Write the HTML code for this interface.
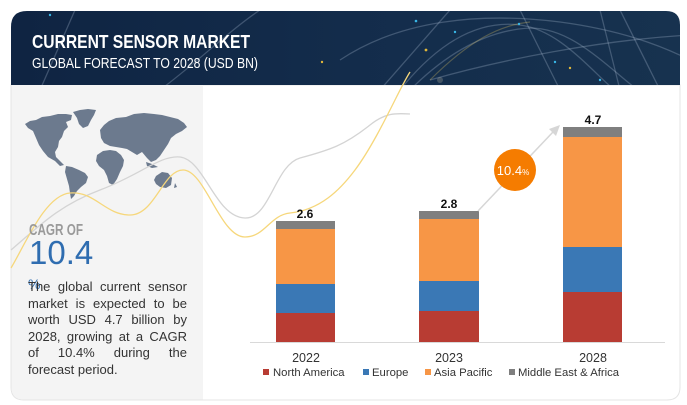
<!DOCTYPE html>
<html><head><meta charset="utf-8">
<style>
html,body{margin:0;padding:0;background:#fff;}
#wrap{position:relative;width:687px;height:405px;overflow:hidden;font-family:"Liberation Sans",sans-serif;}
svg{position:absolute;left:0;top:0;}
.para{position:absolute;left:28px;top:279px;width:159px;font-size:13px;line-height:16.6px;color:#333;}
.para div{text-align:justify;text-align-last:justify;white-space:nowrap;}
.para div.last{text-align:left;text-align-last:left;}
</style></head><body>
<div id="wrap">
<svg width="687" height="405" viewBox="0 0 687 405" xmlns="http://www.w3.org/2000/svg">
<defs>
<linearGradient id="hg" x1="0" y1="0" x2="1" y2="0">
<stop offset="0" stop-color="#0f2442"/>
<stop offset="0.5" stop-color="#132c4b"/>
<stop offset="1" stop-color="#17324f"/>
</linearGradient>
<clipPath id="hc"><path d="M11,85 L11,27 Q11,11 27,11 L666,11 Q680,11 680,25 L680,85 Z"/></clipPath>
</defs>
<!-- card -->
<path d="M11,85 L680,85 L680,387 Q680,400 667,400 L24,400 Q11,400 11,387 Z" fill="#fff" stroke="#e4e4e4" stroke-width="1"/>
<path d="M11.5,85 L203,85 L203,399.5 L24,399.5 Q11.5,399.5 11.5,387 Z" fill="#f4f4f4"/>
<!-- header -->
<g clip-path="url(#hc)">
<rect x="11" y="11" width="669" height="74" fill="url(#hg)"/>
<g fill="none" stroke="rgba(200,215,235,0.25)" stroke-width="1.3">
<path d="M340,60 C400,20 480,12 560,22 C620,30 660,45 690,60"/>
<path d="M400,90 C440,40 480,20 520,25 C560,30 590,70 620,95"/>
<path d="M380,90 L450,10"/>
<path d="M560,90 L520,10"/>
<path d="M620,90 L600,10"/>
<path d="M40,90 L75,10"/>
<path d="M160,90 C200,60 230,30 260,10"/>
<path d="M620,10 L660,90"/>
<path d="M430,80 C500,60 600,40 690,35"/>
<path d="M410,90 C450,50 490,30 530,28 C570,28 600,60 640,92"/>
</g>
<g fill="none" stroke="rgba(230,200,100,0.3)" stroke-width="1.2">
<path d="M430,80 C470,40 500,25 530,22"/>
</g>
<circle cx="416" cy="21" r="1.3" fill="#38b6e6"/>
<circle cx="455" cy="32" r="1.2" fill="#38b6e6"/>
<circle cx="519" cy="24" r="1.2" fill="#38b6e6"/>
<circle cx="555" cy="62" r="1.2" fill="#38b6e6"/>
<circle cx="600" cy="80" r="1.2" fill="#38b6e6"/>
<circle cx="50" cy="15" r="1.2" fill="#38b6e6"/>
<circle cx="426" cy="50" r="1.4" fill="#e0b73a"/>
<circle cx="570" cy="68" r="1.2" fill="#e0b73a"/>
<circle cx="322" cy="62" r="1.2" fill="#e0b73a"/>
<circle cx="440" cy="80" r="3" fill="rgba(255,240,200,0.2)"/>
</g>
<text x="32" y="48" font-family="Liberation Sans" font-weight="bold" font-size="18" fill="#fff" textLength="218" lengthAdjust="spacingAndGlyphs">CURRENT SENSOR MARKET</text>
<text x="32" y="68" font-family="Liberation Sans" font-size="15" fill="#fff" textLength="226" lengthAdjust="spacingAndGlyphs">GLOBAL FORECAST TO 2028 (USD BN)</text>
<!-- world map -->
<g fill="#6c7a8e">
<path d="M25,124 L30,121 L36,120 L42,117 L50,116 L58,114 L66,114 L72,115 L71,120 L66,122 L68,127 L64,131 L62,137 L59,141 L58,147 L55,152 L56,157 L60,161 L64,165 L60,166 L55,161 L48,157 L43,151 L39,145 L36,138 L33,131 L28,128 Z"/>
<path d="M73,112 L80,110 L88,109 L96,110 L94,115 L91,120 L88,126 L83,128 L79,124 L77,118 Z"/>
<path d="M66,166 L72,167 L79,170 L85,173 L88,177 L86,183 L81,187 L77,191 L74,196 L71,199 L70,193 L69,186 L67,179 L65,172 Z"/>
<path d="M97,155 L103,151 L110,150 L116,151 L121,155 L124,160 L123,166 L120,172 L117,179 L113,185 L109,183 L107,176 L104,170 L99,166 L96,161 Z"/>
<path d="M100,130 L104,125 L109,121 L116,118 L126,117 L134,114 L144,113 L154,114 L162,115 L170,117 L178,119 L184,123 L187,127 L182,131 L176,134 L171,138 L168,144 L164,150 L160,156 L156,160 L151,162 L147,158 L142,152 L137,155 L132,152 L127,149 L122,148 L116,147 L110,146 L104,143 L101,138 Z"/>
<path d="M156,176 L162,172 L168,173 L172,178 L171,185 L166,188 L160,187 L156,184 L154,180 Z"/>
<path d="M146,162 L152,164 L158,167 L152,168 L147,166 Z"/>
<path d="M175,183 L177,187 L174,188 Z"/>
</g>
<!-- decorative curves -->
<path d="M11,250 C40,225 60,205 100,190 C140,175 160,155 180,157 C205,160 215,217 245,218 C270,219 275,165 300,158 C330,150 345,145 370,125 C385,113 395,113 410,114" fill="none" stroke="#d4d4d4" stroke-width="1.3"/>
<path d="M11,268 C25,245 45,195 70,193 C95,191 105,215 130,215 C155,215 163,170 183,170 C205,170 220,237 245,237 C265,237 270,215 290,213 C320,210 340,190 355,170 C370,150 385,120 395,100 C400,90 405,80 410,72" fill="none" stroke="#f6d77b" stroke-width="1.3"/>
<!-- left text -->
<text x="29" y="235" font-family="Liberation Sans" font-weight="bold" font-size="16" fill="#9a9a9a" textLength="54" lengthAdjust="spacingAndGlyphs">CAGR OF</text>
<text x="29" y="264" font-family="Liberation Sans" font-size="33" fill="#2f6db0">10.4</text>
<text x="28" y="289" font-family="Liberation Sans" font-size="14" fill="#2f6db0">%</text>
<!-- chart -->
<line x1="250" y1="342.5" x2="665" y2="342.5" stroke="#d9d9d9" stroke-width="1"/>
<!-- 2022 -->
<rect x="276" y="313" width="59" height="29" fill="#b83c33"/>
<rect x="276" y="284" width="59" height="29" fill="#3a78b5"/>
<rect x="276" y="229" width="59" height="55" fill="#f79646"/>
<rect x="276" y="221" width="59" height="8" fill="#7f7f7f"/>
<!-- 2023 -->
<rect x="419" y="311" width="60" height="31" fill="#b83c33"/>
<rect x="419" y="281" width="60" height="30" fill="#3a78b5"/>
<rect x="419" y="219" width="60" height="62" fill="#f79646"/>
<rect x="419" y="211" width="60" height="8" fill="#7f7f7f"/>
<!-- 2028 -->
<rect x="563" y="292" width="59" height="50" fill="#b83c33"/>
<rect x="563" y="247" width="59" height="45" fill="#3a78b5"/>
<rect x="563" y="137" width="59" height="110" fill="#f79646"/>
<rect x="563" y="127" width="59" height="10" fill="#7f7f7f"/>
<!-- value labels -->
<g font-family="Liberation Sans" font-weight="bold" font-size="12" fill="#111" text-anchor="middle">
<text x="305" y="218">2.6</text>
<text x="449" y="208">2.8</text>
<text x="593" y="124">4.7</text>
</g>
<!-- arrow -->
<line x1="478" y1="211" x2="553" y2="132" stroke="#d6d6d6" stroke-width="1.5"/>
<polygon points="560,125 549,129 556,136" fill="#d6d6d6"/>
<circle cx="515" cy="170" r="21" fill="#f57c00"/>
<text x="513" y="175" font-family="Liberation Sans" font-size="13" fill="#fff" text-anchor="middle">10.4<tspan font-size="8">%</tspan></text>
<!-- x labels -->
<g font-family="Liberation Sans" font-size="12.5" fill="#333" text-anchor="middle">
<text x="306" y="362">2022</text>
<text x="449" y="362">2023</text>
<text x="593" y="362">2028</text>
</g>
<!-- legend -->
<rect x="263" y="369" width="6" height="6" fill="#b83c33"/>
<rect x="363" y="369" width="6" height="6" fill="#3a78b5"/>
<rect x="425" y="369" width="6" height="6" fill="#f79646"/>
<rect x="509" y="369" width="6" height="6" fill="#7f7f7f"/>
<g font-family="Liberation Sans" font-size="11.3" fill="#333">
<text x="273" y="376">North America</text>
<text x="372" y="376">Europe</text>
<text x="434" y="376">Asia Pacific</text>
<text x="518" y="376">Middle East &amp; Africa</text>
</g>
</svg>
<div class="para">
<div>The global current sensor</div>
<div>market is expected to be</div>
<div>worth USD 4.7 billion by</div>
<div>2028, growing at a CAGR</div>
<div>of 10.4% during the</div>
<div class="last">forecast period.</div>
</div>
</div>
</body></html>
